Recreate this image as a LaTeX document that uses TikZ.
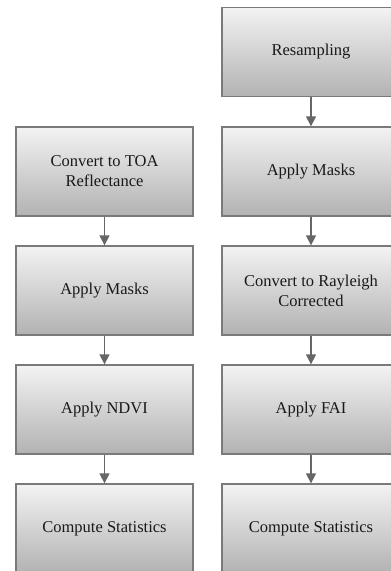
\documentclass[tikz,border=0pt]{standalone}
\usepackage{fontspec}
\setmainfont{Liberation Serif}
\usetikzlibrary{arrows.meta}
\definecolor{boxborder}{HTML}{7A7A7A}
\definecolor{arrowcol}{HTML}{666666}
\definecolor{topgray}{HTML}{F3F3F3}
\definecolor{botgray}{HTML}{B2B2B2}
\tikzset{
  boxlook/.style={draw=boxborder, line width=1.3pt,
    top color=topgray, bottom color=botgray},
  procbox/.style={rectangle, boxlook,
    minimum width=177pt, minimum height=89pt, inner sep=0pt,
    align=center, font=\fontsize{16.5}{20}\selectfont, text=black!90},
  flow/.style={draw=arrowcol, line width=1.3pt,
    -{Triangle[length=10pt,width=10pt]}}
}
\begin{document}
\begin{tikzpicture}[x=1pt,y=1pt]
\useasboundingbox (0,0) rectangle (391,-571);
% right column (boxes run past the right edge of the picture)
\node[procbox, minimum width=178pt] (r1) at (311,-52) {Resampling};
\node[procbox, minimum width=178pt] (r2) at (311,-171.5) {Apply Masks};
\node[procbox, minimum width=178pt] (r3) at (311,-290.5) {Convert to Rayleigh\\Corrected};
\node[procbox, minimum width=178pt] (r4) at (311,-409.5) {Apply FAI};
\node[procbox, minimum width=178pt] (r5) at (311,-528.5) {Compute Statistics};
% left column
\node[procbox] (l1) at (104.5,-171.5) {Convert to TOA\\Reflectance};
\node[procbox] (l2) at (104.5,-290.5) {Apply Masks};
\node[procbox] (l3) at (104.5,-409.5) {Apply NDVI};
\node[procbox] (l4) at (104.5,-528.5) {Compute Statistics};
% arrows
\draw[flow] (r1) -- (r2);
\draw[flow] (r2) -- (r3);
\draw[flow] (r3) -- (r4);
\draw[flow] (r4) -- (r5);
\draw[flow] (l1) -- (l2);
\draw[flow] (l2) -- (l3);
\draw[flow] (l3) -- (l4);
\end{tikzpicture}
\end{document}
